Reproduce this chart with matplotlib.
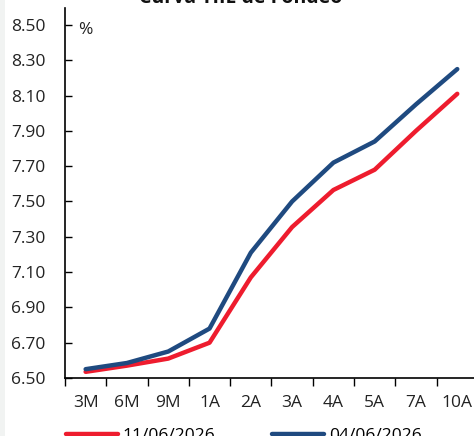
import numpy as np
import matplotlib
matplotlib.use("Agg")
import matplotlib.pyplot as plt
from matplotlib.patches import Rectangle

## data
plazos = ['3M', '6M', '9M', '1A', '2A', '3A', '4A', '5A', '7A', '10A']
curva_actual = [6.535, 6.57, 6.61, 6.70, 7.07, 7.355, 7.565, 7.68, 7.90, 8.11]   # 11/06/2026
curva_previa = [6.55, 6.585, 6.65, 6.78, 7.21, 7.50, 7.72, 7.84, 8.05, 8.25]     # 04/06/2026
yticks = [6.50, 6.70, 6.90, 7.10, 7.30, 7.50, 7.70, 7.90, 8.10, 8.30, 8.50]

plt.rcParams['font.family'] = ['Open Sans', 'DejaVu Sans']

fig = plt.figure(figsize=(4.74, 4.36), dpi=100)
fig.patch.set_facecolor('white')
# light grey strip on the left edge
fig.patches.append(Rectangle((0, 0), 5/474, 1, transform=fig.transFigure,
                             facecolor='#f1f3f2', edgecolor='none'))

ax = fig.add_axes([65/474, 1 - 378/436, 1 - 65/474 + 0.01, (378 - 8)/436])
x = np.arange(len(plazos))
ax.plot(x, curva_actual, color='#ee1c2e', lw=3.2, solid_capstyle='round', label='11/06/2026')
ax.plot(x, curva_previa, color='#1f4a80', lw=3.2, solid_capstyle='round', label='04/06/2026')

ax.set_xlim(-0.5, 9.5 + 0.02)
ax.set_ylim(6.50, 8.596)
ax.set_yticks(yticks)
ax.set_yticklabels(['%.2f' % v for v in yticks], fontsize=12.5, color='#222222')
ax.set_xticks(x)
ax.set_xticklabels(plazos, fontsize=12.5, color='#222222')
# x ticks sit between the categories
ax.set_xticks(np.arange(-0.5, 10, 1), minor=True)
ax.tick_params(axis='x', which='major', length=0, pad=12)
ax.tick_params(axis='x', which='minor', length=6, width=1, direction='out')
ax.tick_params(axis='y', length=5, width=1, direction='in', pad=14)
for s in ['top', 'right']:
    ax.spines[s].set_visible(False)
ax.spines['left'].set_linewidth(1.2)
ax.spines['bottom'].set_linewidth(1.2)

ax.text(78/474, 1 - 30/436, '%', transform=fig.transFigure, fontsize=12.5,
        va='center', ha='left', color='#222222')

fig.text(241/474, 1 + 2/436, 'Curva TIIE de Fondeo', ha='center', va='center',
         fontsize=14, fontweight='bold', color='#111111')

leg = ax.legend(loc='upper left', bbox_to_anchor=(-0.015, -0.115), ncol=2, frameon=False,
                fontsize=12.5, handlelength=3.0, handletextpad=0.25, columnspacing=3.3,
                borderaxespad=0)

plt.savefig('out.png', dpi=100)
